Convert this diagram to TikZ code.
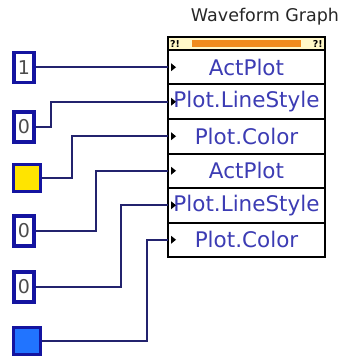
\documentclass[tikz,border=0pt]{standalone}
\usepackage{fontspec}
\setmainfont{DejaVu Sans}
\usepackage{tikz}
\usetikzlibrary{positioning}

\definecolor{wirecol}{HTML}{23236E}
\definecolor{ctrlborder}{HTML}{1414A0}
\definecolor{proptext}{HTML}{3C3CB4}
\definecolor{barorange}{HTML}{F08C1E}
\definecolor{hdrfill}{HTML}{FFF8C8}
\definecolor{ctrlyellow}{HTML}{FFE400}
\definecolor{ctrlblue}{HTML}{2174FF}

\tikzset{
    wire/.style={draw=wirecol, line width=2pt},
    numctrl/.style={draw=ctrlborder, line width=3.5pt, fill=white, minimum width=20pt,
        minimum height=30pt, inner sep=0pt, text=black!70, font=\fontsize{19}{19}\selectfont},
    colctrl/.style={draw=ctrlborder, line width=3.5pt, minimum width=27pt,
        minimum height=27pt, inner sep=0pt},
    prop/.style={draw=black, line width=2pt, fill=white, minimum width=157pt,
        minimum height=34.5pt, inner sep=0pt, outer sep=0pt, text=proptext,
        font=\fontsize{21.5}{21.5}\selectfont},
}

\begin{document}
\begin{tikzpicture}[x=1pt, y=-1pt]
    \useasboundingbox (0,0) rectangle (356,358);

    % property node
    \node[font=\fontsize{17.5}{17.5}\selectfont, text=black!85] (title) at (265,17) {Waveform Graph};
    \node[draw=black, line width=2pt, fill=hdrfill, minimum width=157pt, minimum height=13pt,
        inner sep=0pt, outer sep=0pt, anchor=south west] (hdr) at (168,50) {};
    \node[fill=barorange, minimum width=109pt, minimum height=7pt, inner sep=0pt] (bar) at (hdr.center) {};
    \node[font=\bfseries\fontsize{9.5}{9.5}\selectfont, anchor=west, inner sep=2pt] (warnl) at (hdr.west) {?!};
    \node[font=\bfseries\fontsize{9.5}{9.5}\selectfont, anchor=east, inner sep=2pt] (warnr) at (hdr.east) {?!};

    \node[prop, below=0pt of hdr] (act1) {ActPlot};
    \node[prop, below=0pt of act1] (style1) {Plot.LineStyle};
    \node[prop, below=0pt of style1] (color1) {Plot.Color};
    \node[prop, below=0pt of color1] (act2) {ActPlot};
    \node[prop, below=0pt of act2] (style2) {Plot.LineStyle};
    \node[prop, below=0pt of style2] (color2) {Plot.Color};

    % little input arrows
    \fill (act1.west) ++(3,-4) -- ++(5,4) -- ++(-5,4) -- cycle;
    \fill (style1.west) ++(3,-4) -- ++(5,4) -- ++(-5,4) -- cycle;
    \fill (color1.west) ++(3,-4) -- ++(5,4) -- ++(-5,4) -- cycle;
    \fill (act2.west) ++(3,-4) -- ++(5,4) -- ++(-5,4) -- cycle;
    \fill (style2.west) ++(3,-4) -- ++(5,4) -- ++(-5,4) -- cycle;
    \fill (color2.west) ++(3,-4) -- ++(5,4) -- ++(-5,4) -- cycle;

    % constants
    \node[numctrl] (c1) at (24,67.5) {1};
    \node[numctrl] (c2) at (24,127) {0};
    \node[colctrl, fill=ctrlyellow] (c3) at (27,178) {};
    \node[numctrl] (c4) at (24,231) {0};
    \node[numctrl] (c5) at (24,287) {0};
    \node[colctrl, fill=ctrlblue] (c6) at (27,341) {};

    % wires
    \draw[wire] (c1.east) -- (c1.east -| act1.west);
    \draw[wire] (c2.east) -- ++(15,0) |- (style1.west);
    \draw[wire] (c3.east) -- ++(30,0) |- (color1.west);
    \draw[wire] (c4.east) -- ++(60,0) |- (act2.west);
    \draw[wire] (c5.east) -- ++(85,0) |- (style2.west);
    \draw[wire] (c6.east) -- ++(105,0) |- (color2.west);
\end{tikzpicture}
\end{document}
